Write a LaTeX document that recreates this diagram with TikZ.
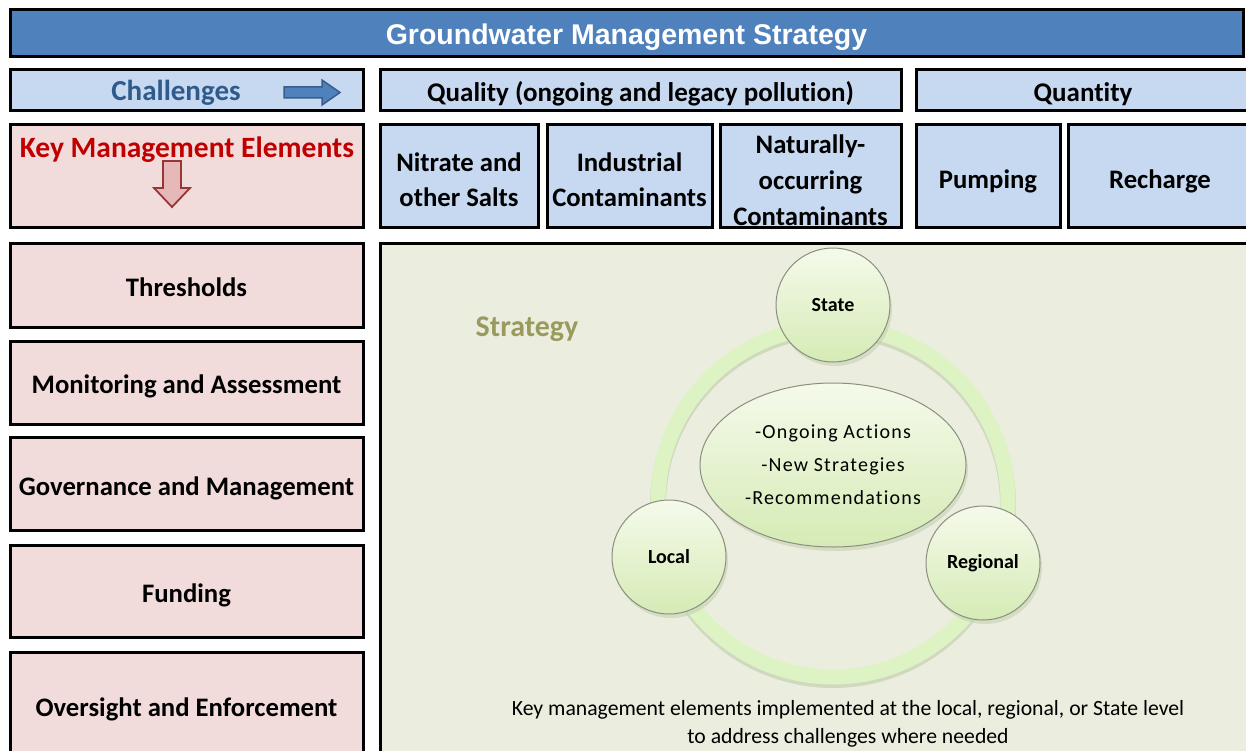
\documentclass[tikz,border=0pt]{standalone}
\usepackage{fontspec}
\setmainfont{Carlito}[Ligatures={NoCommon,NoRare,NoDiscretionary}]
\newfontfamily\arialfont{Liberation Sans}
\usetikzlibrary{shapes.geometric}
\definecolor{titleblue}{HTML}{4F81BD}
\definecolor{lightblue}{HTML}{C6D9F1}
\definecolor{pinkbox}{HTML}{F2DCDB}
\definecolor{panelgreen}{HTML}{EBEEDF}
\definecolor{chalblue}{HTML}{2F5A8C}
\definecolor{kmered}{HTML}{C00000}
\definecolor{arrowred}{HTML}{953735}
\definecolor{arrowpink}{HTML}{E6B9B8}
\definecolor{arrowblue}{HTML}{4F81BD}
\definecolor{arrowblueedge}{HTML}{385D8A}
\definecolor{olive}{HTML}{9B9A5E}
\definecolor{ringgreen}{HTML}{DDF3C3}
\definecolor{ringshadow}{HTML}{C5D1B2}
\definecolor{circtop}{HTML}{F5FAEB}
\definecolor{circbot}{HTML}{D5EBB5}
\definecolor{circedge}{HTML}{8C8F80}
\tikzset{
  frame/.style={draw=black, line width=3pt, inner sep=0pt, align=center, font=\bfseries\fontsize{26.7}{35}\selectfont},
  bluebox/.style={frame, fill=lightblue},
  pinkbox/.style={frame, fill=pinkbox},
  oneline/.style={text height=#1, text depth=0pt},
  boxtext/.style={label={[yshift=-3pt, font=\bfseries\fontsize{26.7}{35}\selectfont, align=center]center:#1}},
  levelcircle/.style={circle, draw=circedge, line width=1pt, minimum size=114pt, inner sep=0pt,
    top color=circtop, bottom color=circbot, font=\bfseries\fontsize{20}{22}\selectfont},
}
\begin{document}
\begin{tikzpicture}[x=1pt,y=-1pt]
\useasboundingbox (0,0) rectangle (1246,751);
\clip (0,0) rectangle (1246,751);
\fill[white] (0,0) rectangle (1246,751);

% title
\node[frame, fill=titleblue, minimum width=1233pt, minimum height=47pt, text=white, oneline=21.4pt,
  font=\arialfont\bfseries\fontsize{28.5}{30}\selectfont] (title) at (626.5,33.5) {Groundwater Management Strategy};

% row 2
\node[bluebox, minimum width=353pt, minimum height=41pt] (chal) at (186.5,90.5) {};
\node[anchor=base, text=chalblue, font=\bfseries\fontsize{29}{30}\selectfont] (chaltext) at (176,101) {Challenges};
\draw[draw=arrowblueedge, line width=1.5pt, fill=arrowblue, line join=miter]
  (284,87) -- (322,87) -- (322,80) -- (340,92.5) -- (322,105) -- (322,98) -- (284,98) -- cycle;
\node[bluebox, minimum width=521pt, minimum height=41pt, oneline=22.4pt, font=\bfseries\fontsize{27}{30}\selectfont] (quality) at (640.5,90.5) {Quality (ongoing and legacy pollution)};
\node[bluebox, minimum width=336pt, minimum height=41pt] (quantity) at (1084,90.5) {};
\node[anchor=base, font=\bfseries\fontsize{27}{30}\selectfont] (quantitytext) at (1083,102) {Quantity};

% row 3
\node[pinkbox, minimum width=353pt, minimum height=103pt] (kme) at (186.5,176.5) {};
\node[anchor=base, text=kmered, font=\bfseries\fontsize{29.5}{30}\selectfont] (kmetext) at (187,157.5) {Key Management Elements};
\draw[draw=arrowred, line width=1.8pt, fill=arrowpink, line join=miter]
  (163,161) -- (181,161) -- (181,188) -- (190,188) -- (172,207) -- (154,188) -- (163,188) -- cycle;

\node[bluebox, minimum width=158pt, minimum height=103pt, boxtext={Nitrate and\\other Salts}] (nitrate) at (459,176.5) {};
\node[bluebox, minimum width=165pt, minimum height=103pt, boxtext={Industrial\\Contaminants}] (industrial) at (629.5,176.5) {};
\node[bluebox, minimum width=181pt, minimum height=103pt] (natural) at (810.5,176.5) {};
\node[font=\bfseries\fontsize{26.7}{36}\selectfont, align=center] (naturaltext) at (810.5,180) {Naturally-\\occurring\\Contaminants};
\node[bluebox, minimum width=144pt, minimum height=103pt, oneline=24.4pt] (pumping) at (988,176.5) {Pumping};
\node[bluebox, minimum width=184pt, minimum height=103pt, oneline=24.4pt] (recharge) at (1160,176.5) {Recharge};

% left column
\node[pinkbox, minimum width=353pt, minimum height=84pt, oneline=22.4pt] (thresholds) at (186.5,285) {Thresholds};
\node[pinkbox, minimum width=353pt, minimum height=83pt, oneline=22.4pt] (monitoring) at (186.5,382.5) {Monitoring and Assessment};
\node[pinkbox, minimum width=353pt, minimum height=93pt, oneline=23.4pt] (governance) at (186.5,483.5) {Governance and Management};
\node[pinkbox, minimum width=353pt, minimum height=92pt, oneline=23pt] (funding) at (186.5,591) {Funding};
\node[pinkbox, minimum width=353pt, minimum height=106pt, oneline=22.4pt] (oversight) at (186.5,705) {Oversight and Enforcement};

% strategy panel
\node[frame, fill=panelgreen, minimum width=872pt, minimum height=517pt] (panel) at (816,501.5) {};
\node[anchor=base, text=olive, font=\bfseries\fontsize{30}{30}\selectfont] (strategy) at (527,336.5) {Strategy};

% ring
\coordinate (ringc) at (833,502);
\draw[ringshadow, line width=16pt, opacity=0.7] ([yshift=-3pt]ringc) circle[radius=175];
\draw[ringgreen, line width=15pt] (ringc) circle[radius=175];

% centre ellipse
\fill[ringshadow, opacity=0.6] (835,469) ellipse[x radius=133, y radius=82];
\node[ellipse, draw=circedge, line width=1pt, minimum width=266pt, minimum height=164pt,
  top color=circtop, bottom color=circbot, inner sep=0pt, align=center,
  font=\addfontfeatures{LetterSpace=6}\fontsize{20}{33}\selectfont] (actions) at (833,465) {-Ongoing Actions\\-New Strategies\\-Recommendations};

% level circles
\fill[ringshadow, opacity=0.6] (835,309) circle[radius=57];
\fill[ringshadow, opacity=0.6] (671,561) circle[radius=57];
\fill[ringshadow, opacity=0.6] (985,567) circle[radius=57];
\node[levelcircle] (state) at (833,305) {State};
\node[levelcircle] (local) at (669,557) {Local};
\node[levelcircle] (regional) at (983,563) {Regional};

% caption
\node[align=center, font=\fontsize{21.7}{28}\selectfont] (caption) at (848,724)
  {Key management elements implemented at the local, regional, or State level\\to address challenges where needed};
\end{tikzpicture}
\end{document}
